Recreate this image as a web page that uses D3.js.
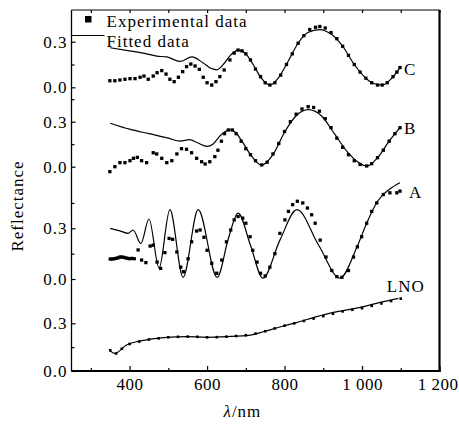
<!DOCTYPE html>
<html>
<head>
<meta charset="utf-8">
<script src="https://cdn.jsdelivr.net/npm/d3@7/dist/d3.min.js"></script>
<style>
  body { margin: 0; background: #fff; }
  #chart { width: 459px; height: 425px; }
  text { font-family: "Liberation Serif", "Times New Roman", serif; font-size: 17px; letter-spacing: 1px; fill: #000; }
</style>
</head>
<body>
<div id="chart"></div>
<script>
// x axis
const xTicks = [400, 600, 800, 1000, 1200];
const xTickLabels = ["400", "600", "800", "1 000", "1 200"];
const xMinorTicks = [300, 500, 700, 900, 1100];
const yTickLabels = ["0.0", "0.3"];
const panelNames = ["C", "B", "A", "LNO"];

// sample C
const cExpNm = [349, 362, 375, 388, 401, 414, 427, 437, 448, 461, 471, 483, 494, 504, 515, 526, 537, 547, 558, 569, 580, 590, 600, 612, 623, 633, 644, 659, 670, 680, 690, 700, 712, 725, 738, 750, 762, 775, 790, 805, 820, 835, 850, 865, 880, 891, 905, 920, 935, 950, 965, 980, 995, 1010, 1025, 1040, 1052, 1065, 1080, 1090, 1098];
const cExpR = [0.043, 0.043, 0.048, 0.053, 0.057, 0.057, 0.066, 0.074, 0.053, 0.074, 0.096, 0.11, 0.087, 0.053, 0.037, 0.066, 0.103, 0.136, 0.153, 0.14, 0.118, 0.066, 0.03, 0.015, 0.037, 0.07, 0.114, 0.18, 0.225, 0.245, 0.24, 0.22, 0.18, 0.12, 0.07, 0.03, 0.015, 0.03, 0.08, 0.15, 0.22, 0.29, 0.34, 0.38, 0.395, 0.40, 0.39, 0.36, 0.32, 0.27, 0.21, 0.15, 0.10, 0.06, 0.03, 0.015, 0.015, 0.03, 0.07, 0.10, 0.13];
const cFitNm = [350, 400, 435, 470, 496, 530, 561, 590, 610, 625, 645, 660, 680, 700, 720, 740, 762, 785, 810, 835, 860, 891, 920, 950, 980, 1010, 1030, 1052, 1075, 1098];
const cFitR = [0.26, 0.24, 0.225, 0.205, 0.2, 0.17, 0.2, 0.16, 0.125, 0.115, 0.16, 0.21, 0.245, 0.22, 0.145, 0.06, 0.015, 0.065, 0.175, 0.29, 0.36, 0.38, 0.35, 0.27, 0.15, 0.06, 0.025, 0.015, 0.055, 0.13];

// sample B
const bExpNm = [349, 362, 375, 388, 401, 410, 420, 431, 444, 461, 470, 483, 496, 509, 522, 534, 547, 560, 573, 586, 595, 607, 620, 628, 637, 645, 655, 665, 675, 688, 700, 712, 725, 741, 755, 770, 785, 800, 815, 830, 845, 861, 875, 890, 905, 920, 935, 950, 965, 980, 995, 1012, 1025, 1040, 1055, 1070, 1085, 1098];
const bExpR = [-0.033, 0.0, 0.027, 0.027, 0.04, 0.056, 0.062, 0.04, 0.027, 0.093, 0.085, 0.056, 0.027, 0.04, 0.085, 0.12, 0.116, 0.093, 0.056, 0.033, 0.018, 0.033, 0.067, 0.11, 0.17, 0.22, 0.245, 0.245, 0.22, 0.17, 0.12, 0.08, 0.04, 0.012, 0.03, 0.085, 0.155, 0.235, 0.3, 0.35, 0.385, 0.40, 0.395, 0.37, 0.32, 0.26, 0.19, 0.13, 0.08, 0.04, 0.015, 0.005, 0.02, 0.06, 0.11, 0.17, 0.22, 0.26];
const bFitNm = [350, 400, 450, 500, 530, 555, 575, 600, 615, 635, 660, 675, 690, 715, 741, 770, 800, 830, 861, 895, 930, 965, 990, 1012, 1040, 1070, 1098];
const bFitR = [0.29, 0.25, 0.22, 0.19, 0.17, 0.18, 0.16, 0.135, 0.15, 0.21, 0.245, 0.225, 0.17, 0.07, 0.01, 0.08, 0.23, 0.34, 0.38, 0.34, 0.215, 0.09, 0.03, 0.005, 0.06, 0.17, 0.26];

// sample A
const aExpNm = [350, 355, 360, 365, 370, 375, 380, 385, 390, 395, 400, 406, 412, 422, 431, 442, 453, 461, 471, 480, 491, 502, 511, 522, 532, 539, 551, 560, 573, 582, 592, 600, 612, 625, 638, 650, 661, 670, 680, 692, 700, 711, 718, 729, 738, 750, 762, 775, 788, 801, 810, 821, 833, 847, 859, 870, 879, 892, 907, 922, 935, 948, 965, 978, 988, 999, 1012, 1025, 1038, 1055, 1072, 1090, 1098];
const aExpR = [0.118, 0.118, 0.12, 0.122, 0.125, 0.13, 0.13, 0.128, 0.125, 0.122, 0.12, 0.122, 0.12, 0.172, 0.112, 0.097, 0.195, 0.2, 0.10, 0.063, 0.156, 0.24, 0.235, 0.16, 0.07, 0.043, 0.12, 0.22, 0.284, 0.29, 0.247, 0.17, 0.093, 0.034, 0.112, 0.22, 0.29, 0.35, 0.37, 0.36, 0.33, 0.25, 0.17, 0.10, 0.034, 0.018, 0.07, 0.15, 0.27, 0.35, 0.40, 0.44, 0.46, 0.45, 0.42, 0.38, 0.33, 0.23, 0.13, 0.05, 0.014, 0.01, 0.05, 0.13, 0.19, 0.25, 0.33, 0.40, 0.45, 0.50, 0.51, 0.51, 0.52];
const aFitNm = [350, 375, 396, 409, 429, 450, 476, 504, 538, 577, 626, 655, 680, 712, 744, 788, 832, 888, 943, 987, 1012, 1040, 1070, 1098];
const aFitR = [0.30, 0.285, 0.27, 0.29, 0.21, 0.355, 0.065, 0.41, 0.01, 0.41, 0.01, 0.24, 0.39, 0.2, 0.005, 0.23, 0.41, 0.2, 0.005, 0.19, 0.33, 0.46, 0.53, 0.57];

// LNO substrate
const lnoExpNm = [350, 365, 380, 400, 425, 450, 475, 500, 525, 550, 575, 600, 625, 650, 675, 700, 725, 750, 775, 800, 825, 850, 875, 900, 925, 950, 975, 1000, 1025, 1050, 1075, 1100];
const lnoExpR = [0.13, 0.11, 0.14, 0.17, 0.185, 0.198, 0.205, 0.212, 0.215, 0.216, 0.215, 0.212, 0.213, 0.216, 0.22, 0.225, 0.235, 0.25, 0.268, 0.285, 0.3, 0.315, 0.33, 0.345, 0.36, 0.375, 0.385, 0.395, 0.41, 0.425, 0.44, 0.455];
const lnoFitNm = [349, 362, 392, 418, 453, 496, 547, 599, 651, 711, 745, 797, 831, 883, 926, 969, 1012, 1055, 1094];
const lnoFitR = [0.128, 0.11, 0.164, 0.184, 0.2, 0.212, 0.216, 0.212, 0.216, 0.226, 0.247, 0.283, 0.304, 0.342, 0.369, 0.388, 0.41, 0.436, 0.457];

class StackedSpectra {

  constructor(parentElement) {
    this.parentElement = parentElement;
    this.series = [
      { name: panelNames[0], expNm: cExpNm, expR: cExpR, fitNm: cFitNm, fitR: cFitR },
      { name: panelNames[1], expNm: bExpNm, expR: bExpR, fitNm: bFitNm, fitR: bFitR },
      { name: panelNames[2], expNm: aExpNm, expR: aExpR, fitNm: aFitNm, fitR: aFitR },
      { name: panelNames[3], expNm: lnoExpNm, expR: lnoExpR, fitNm: lnoFitNm, fitR: lnoFitR }
    ];
    // where 0.0 and 0.3 of each layer sit inside the plot, plus label nudges
    this.layers = [
      { zero: 77.3, top: 31.7, minor: [0.15], labelDx: 4, labelDy: 7, anchor: "start" },
      { zero: 156.7, top: 111.7, minor: [0.15, 0.45], labelDx: 4, labelDy: 6, anchor: "start" },
      { zero: 269, top: 218.3, minor: [0.15, 0.45], labelDx: 9, labelDy: 7, anchor: "start" },
      { zero: 361, top: 313.3, minor: [0.15], labelDx: 24, labelDy: -7, anchor: "end" }
    ];
    this.initVis();
  }

  initVis() {
    let vis = this;

    vis.margin = { top: 10, right: 19.5, bottom: 54, left: 71.5 };
    vis.width = 459 - vis.margin.left - vis.margin.right;
    vis.height = 425 - vis.margin.top - vis.margin.bottom;

    vis.svg = d3.select("#" + vis.parentElement)
      .append("svg")
      .attr("width", 459)
      .attr("height", 425)
      .append("g")
      .attr("transform", "translate(" + vis.margin.left + "," + vis.margin.top + ")");

    vis.x = d3.scaleLinear().domain([250, 1200]).range([0, vis.width]);

    vis.updateVis();
  }

  updateVis() {
    let vis = this;

    // frame
    vis.svg.append("line").attr("x1", 0).attr("x2", vis.width).attr("y1", 0).attr("y2", 0)
      .attr("stroke", "#000").attr("stroke-width", 1.2);
    vis.svg.append("line").attr("x1", 0).attr("x2", 0).attr("y1", 0).attr("y2", vis.height)
      .attr("stroke", "#000").attr("stroke-width", 1.3);
    vis.svg.append("line").attr("x1", vis.width).attr("x2", vis.width).attr("y1", 0).attr("y2", vis.height + 1)
      .attr("stroke", "#000").attr("stroke-width", 2.2);
    vis.svg.append("line").attr("x1", 0).attr("x2", vis.width + 1).attr("y1", vis.height).attr("y2", vis.height)
      .attr("stroke", "#000").attr("stroke-width", 2.2);

    // bottom axis, ticks pointing in
    let xAxis = vis.svg.append("g")
      .attr("class", "x-axis")
      .attr("transform", "translate(0," + vis.height + ")")
      .call(d3.axisBottom(vis.x).tickValues(xTicks).tickSizeInner(-5).tickSizeOuter(0).tickPadding(4)
        .tickFormat((d, i) => xTickLabels[i]));
    xAxis.select(".domain").remove();
    xAxis.selectAll("text")
      .attr("dy", "0.9em")
      .attr("dx", (d, i) => i === xTicks.length - 1 ? -2 : 0)
      .style("font-size", "17px").style("font-family", null).style("letter-spacing", "0.5px");

    let xMinor = vis.svg.append("g")
      .attr("transform", "translate(0," + vis.height + ")")
      .call(d3.axisBottom(vis.x).tickValues(xMinorTicks).tickSize(-3).tickFormat(""));
    xMinor.select(".domain").remove();

    // top ticks
    let xTop = vis.svg.append("g")
      .call(d3.axisTop(vis.x).tickValues(xTicks.concat(xMinorTicks)).tickSize(-3).tickFormat(""));
    xTop.select(".domain").remove();

    vis.svg.selectAll(".tick line").attr("stroke", "#000").attr("stroke-width", 1.2);

    vis.series.forEach((s, i) => {
      let layer = vis.layers[i];
      let y = d3.scaleLinear().domain([0, 0.3]).range([layer.zero, layer.top]);

      let yAxis = vis.svg.append("g")
        .attr("class", "y-axis")
        .call(d3.axisLeft(y).tickValues([0, 0.3]).tickSizeInner(-4).tickSizeOuter(0).tickPadding(4)
          .tickFormat((d, k) => yTickLabels[k]));
      yAxis.select(".domain").remove();
      yAxis.selectAll("text").style("font-size", "17px").style("font-family", null);
      yAxis.selectAll("line").attr("stroke", "#000").attr("stroke-width", 1.2);

      let yMinor = vis.svg.append("g")
        .call(d3.axisLeft(y).tickValues(layer.minor).tickSize(-3).tickFormat(""));
      yMinor.select(".domain").remove();
      yMinor.selectAll("line").attr("stroke", "#000").attr("stroke-width", 1.2);

      let fit = s.fitNm.map((d, k) => [d, s.fitR[k]]);
      let line = d3.line()
        .x(d => vis.x(d[0]))
        .y(d => y(d[1]))
        .curve(d3.curveMonotoneX);

      vis.svg.append("path")
        .datum(fit)
        .attr("fill", "none")
        .attr("stroke", "#000")
        .attr("stroke-width", 1.2)
        .attr("d", line);

      let exp = s.expNm.map((d, k) => [d, s.expR[k]]);
      let size = i === 3 ? 2.6 : 3.3;
      vis.svg.selectAll(".pt-" + i)
        .data(exp)
        .enter()
        .append("rect")
        .attr("class", "pt-" + i)
        .attr("x", d => vis.x(d[0]) - size / 2)
        .attr("y", d => y(d[1]) - size / 2)
        .attr("width", size)
        .attr("height", size)
        .attr("fill", "#000");

      // layer label next to the end of the curve
      let last = exp[exp.length - 1];
      vis.svg.append("text")
        .attr("x", vis.x(last[0]) + layer.labelDx)
        .attr("y", y(last[1]) + layer.labelDy)
        .attr("text-anchor", layer.anchor)
        .text(s.name);
    });

    // legend
    vis.svg.append("rect")
      .attr("x", 13.5).attr("y", 6).attr("width", 6.5).attr("height", 6.5)
      .attr("fill", "#000");
    vis.svg.append("text").attr("x", 35).attr("y", 16.5).text("Experimental data");
    vis.svg.append("line")
      .attr("x1", 0).attr("x2", 33).attr("y1", 25.5).attr("y2", 25.5)
      .attr("stroke", "#000").attr("stroke-width", 1.2);
    vis.svg.append("text").attr("x", 35).attr("y", 36.5).text("Fitted data");

    // axis titles
    vis.svg.append("text")
      .attr("transform", "translate(-49," + 196 + ") rotate(-90)")
      .attr("text-anchor", "middle")
      .text("Reflectance");

    let xt = vis.svg.append("text")
      .attr("x", 152)
      .attr("y", vis.height + 46);
    xt.append("tspan").style("font-style", "italic").text("λ");
    xt.append("tspan").text("/nm");
  }
}

new StackedSpectra("chart");
</script>
</body>
</html>
